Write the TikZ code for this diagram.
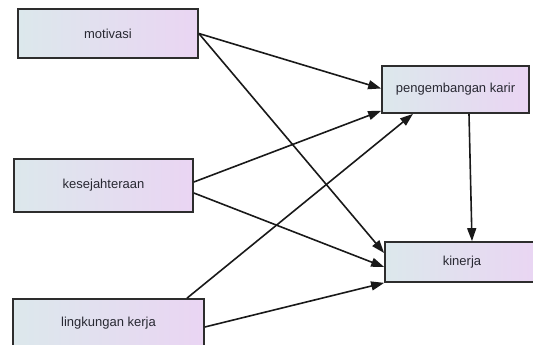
\documentclass[tikz,border=0pt]{standalone}
\usepackage{fontspec}
\setmainfont{Liberation Sans}
\usetikzlibrary{arrows.meta}
\definecolor{boxleft}{RGB}{220,232,236}
\definecolor{boxright}{RGB}{234,213,243}
\definecolor{boxline}{RGB}{45,45,45}
\definecolor{txt}{RGB}{40,40,50}
\tikzset{
  varbox/.style={draw=boxline, line width=1.7pt, left color=boxleft, right color=boxright,
    inner sep=0pt, font=\fontsize{13}{15}\selectfont, text=txt},
  link/.style={draw=black!90, line width=1.6pt, -{Triangle[length=13pt,width=9pt]}}
}
\begin{document}
\begin{tikzpicture}[x=1pt,y=-1pt]
\useasboundingbox (0,0) rectangle (533,345);
\clip (0,0) rectangle (533,345);
\node[varbox, minimum width=180pt, minimum height=49pt] (mot) at (108,33.5) {motivasi};
\node[varbox, minimum width=179pt, minimum height=53pt] (kes) at (103.5,185.5) {kesejahteraan};
\node[varbox, minimum width=191pt, minimum height=48pt] (lin) at (108.5,323) {lingkungan kerja};
\node[varbox, minimum width=147pt, minimum height=47pt] (peng) at (455.5,89.5) {pengembangan karir};
\node[varbox, minimum width=154pt, minimum height=40pt] (kin) at (462,262) {kinerja};

\draw[link] (mot.east) -- ([yshift=1pt]peng.west);
\draw[link] (mot.east) -- ([yshift=9pt]kin.west);
\draw[link] ([yshift=3.5pt]kes.east) -- ([yshift=3pt]peng.south west);
\draw[link] ([yshift=-7.5pt]kes.east) -- ([yshift=-5pt]kin.west);
\draw[link] ([xshift=78.5pt]lin.north) -- ([xshift=-42.5pt]peng.south);
\draw[link] ([yshift=-4pt]lin.east) -- (kin.south west);
\draw[link] ([xshift=13.5pt]peng.south) -- ([xshift=10pt]kin.north);
\end{tikzpicture}
\end{document}
